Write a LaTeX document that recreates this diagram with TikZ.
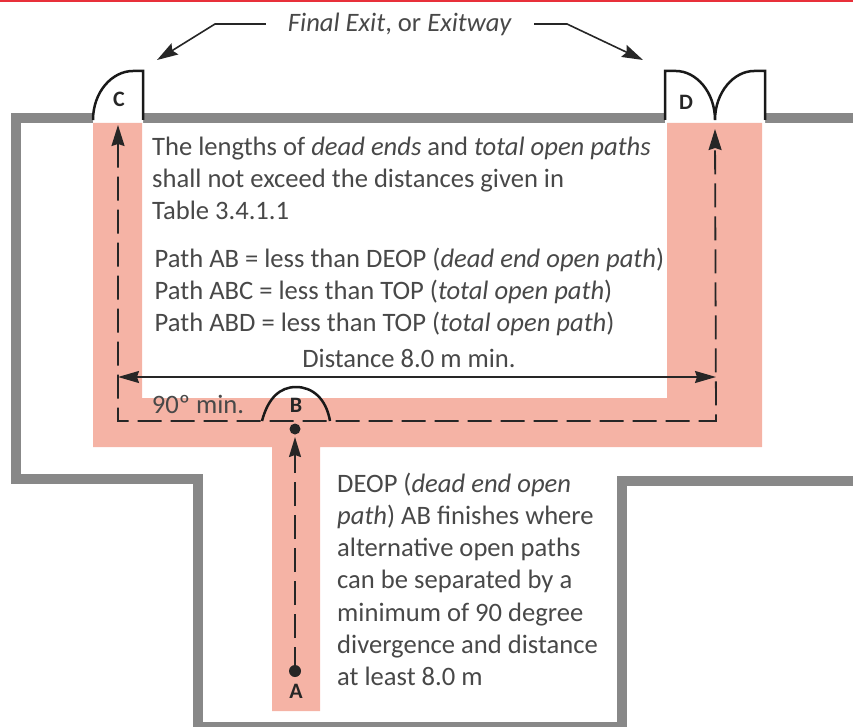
\documentclass[tikz,border=0pt]{standalone}
\usepackage{fontspec}
\setmainfont{Carlito}
\usetikzlibrary{arrows.meta}
\definecolor{wallgray}{HTML}{888888}
\definecolor{pathpink}{HTML}{F5B3A5}
\definecolor{textgray}{HTML}{484848}
\definecolor{toprule}{HTML}{E8303A}
\tikzset{
    wall/.style={line width=10pt, wallgray, line join=miter},
    door/.style={line width=2.5pt, black!90, line join=miter},
    label/.style={font=\fontsize{22}{22}\selectfont\bfseries, text=black!85, inner sep=0pt},
    note/.style={font=\fontsize{26.6}{32.1}\selectfont, text=textgray, inner sep=0pt, align=left, anchor=north west},
    leader/.style={line width=1.6pt, black!85, -{Stealth[length=21pt,width=13pt,inset=3pt]}},
    route/.style={line width=1.8pt, black!85, dash pattern=on 24pt off 9pt}
}
\begin{document}
\begin{tikzpicture}[x=1pt, y=-1pt]
    \useasboundingbox (0,0) rectangle (853,727);
    \fill[toprule] (0,0) rectangle (853,2);
    % walls
    \draw[wall]
        (853,118)--(16,118)--(16,479)--(198,479)--(198,727)--(622,727)--(622,481)--(853,481);
    % openings
    \fill[white]
        (93,112) rectangle (143,124)
        (665,112) rectangle (765,124);
    % open paths
    \fill[pathpink]
        (93,123)--(142,123)--(142,398)--(667,398)--(667,123)--(762,123)--(762,447)
        --(320,447)--(320,711)--(272,711)--(272,447)--(93,447)--cycle;
    % doors
    \draw[door]
        (93,120) .. controls (93,92) and (112,71) .. (133,71) -- (143,71) -- (143,120);
    \draw[door]
        (715,120) .. controls (715,92) and (696,71) .. (676,71) -- (665,71) -- (665,120)
        (715,120) .. controls (715,92) and (734,71) .. (754,71) -- (765,71) -- (765,120);
    \draw[door]
        (262,421) .. controls (268,398) and (280,387) .. (296,387)
        .. controls (312,387) and (326,398) .. (330,421);
    % door and point labels
    \node[label] (C) at (119,99) {C};
    \node[label] (D) at (686,102) {D};
    \node[label] (B) at (296,405) {B};
    \node[label] (A) at (296,691) {A};
    \coordinate (tipC) at (118,125);
    \coordinate (tipD) at (715,129);
    \coordinate (bendC) at (118,421);
    \coordinate (bendD) at (716,421);
    \coordinate (dotB) at (295,429);
    \coordinate (dotA) at (295,671);
    \coordinate (dimC) at (118,377);
    \coordinate (dimD) at (716,377);
    % routes
    \draw[route, {Stealth[length=21pt,width=13pt,inset=2pt]}-{Stealth[length=21pt,width=13pt,inset=2pt]}]
        (tipC)--(bendC)--(bendD)--(tipD);
    \draw[route, -{Stealth[length=20pt,width=12pt,inset=2pt]}]
        (dotA)--(295,437);
    \draw[line width=1.6pt, black!85, {Stealth[length=21pt,width=12pt,inset=2pt]}-{Stealth[length=21pt,width=12pt,inset=2pt]}]
        (dimC)--(dimD);
    \fill[black!85]
        (dotB) circle (5.5pt)
        (dotA) circle (6pt);
    % texts
    \node[note, anchor=center] (exit) at (400,24) {\textit{Final Exit}, or \textit{Exitway}};
    \coordinate (bendL) at (215,24);
    \coordinate (bendR) at (567,24);
    \coordinate (endL) at (157,60);
    \coordinate (endR) at (643,60);
    \draw[leader] (exit.west)++(-22,0)--(bendL)--(endL);
    \draw[leader] (exit.east)++(22,0)--(bendR)--(endR);
    \node[note] (limits) at (152,137)
        {The lengths of \textit{dead ends} and \textit{total open paths}\\
         shall not exceed the distances given in\\
         Table 3.4.1.1};
    \node[note] (pathlist) at (154.5,248)
        {Path AB = less than DEOP (\textit{dead end open path})\\
         Path ABC = less than TOP (\textit{total open path})\\
         Path ABD = less than TOP (\textit{total open path})};
    \node[note, anchor=center] (dist) at (409,358) {Distance 8.0 m min.};
    \node[note, anchor=center] (angle) at (198,404) {90º min.};
    \node[note] (deop) at (337,473)
        {DEOP (\textit{dead end open}\\
         \textit{path}) AB finishes where\\
         alternative open paths\\
         can be separated by a\\
         minimum of 90 degree\\
         divergence and distance\\
         at least 8.0 m};
\end{tikzpicture}
\end{document}
